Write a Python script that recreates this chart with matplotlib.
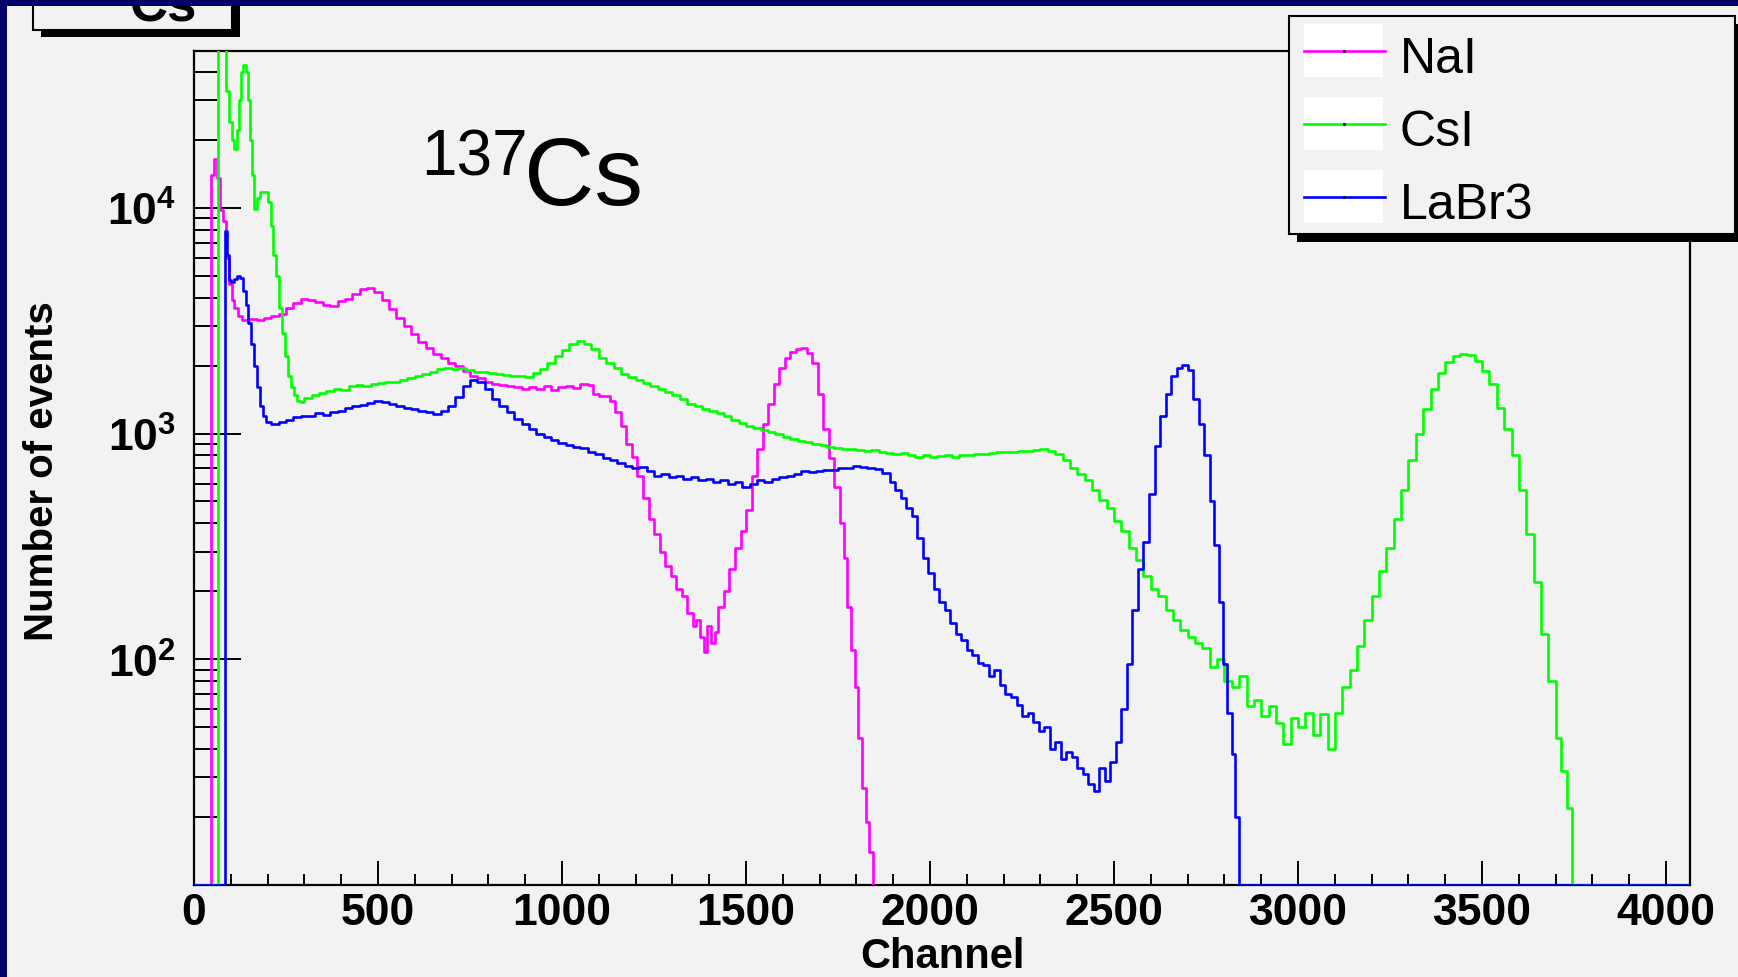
import numpy as np
import matplotlib
matplotlib.use('Agg')
import matplotlib.pyplot as plt
from matplotlib.patches import Rectangle
from matplotlib.lines import Line2D
from matplotlib.ticker import MultipleLocator, NullFormatter

# ---------------- data (channel, counts) ----------------
series_labels = ['NaI', 'CsI', 'LaBr3']
series_colors = ['#ff00ff', '#00ff00', '#0000ff']

nai = [(0, 0), (45, 14000), (54, 16500), (62, 13500), (70, 9800), (78, 8700), (86, 6000), (94, 4600),
       (102, 3900), (110, 3600), (120, 3300), (130, 3200), (150, 3220), (170, 3200), (190, 3250),
       (210, 3300), (230, 3380), (250, 3600), (270, 3800), (290, 3950), (310, 3900), (330, 3820),
       (350, 3700), (370, 3680), (390, 3850), (410, 3950), (430, 4150), (450, 4350), (470, 4420),
       (490, 4250), (510, 3900), (530, 3550), (550, 3250), (570, 3000), (590, 2750), (610, 2550),
       (630, 2400), (650, 2250), (670, 2150), (690, 2050), (710, 2000), (730, 1900), (750, 1800),
       (770, 1760), (790, 1700), (810, 1660), (830, 1640), (850, 1620), (870, 1600), (890, 1580),
       (910, 1610), (930, 1570), (950, 1620), (970, 1560), (990, 1600), (1010, 1620), (1030, 1590),
       (1050, 1660), (1070, 1640), (1085, 1500), (1100, 1470), (1115, 1460), (1130, 1400),
       (1145, 1250), (1160, 1080), (1175, 900), (1190, 790), (1205, 650), (1220, 520), (1235, 420),
       (1250, 360), (1265, 300), (1280, 260), (1295, 235), (1310, 205), (1325, 190), (1340, 160),
       (1355, 140), (1365, 150), (1375, 125), (1385, 108), (1395, 140), (1405, 118), (1415, 132),
       (1425, 170), (1440, 200), (1455, 250), (1470, 310), (1485, 370), (1500, 460), (1515, 650),
       (1530, 850), (1545, 1100), (1560, 1350), (1575, 1650), (1590, 1950), (1605, 2150),
       (1620, 2300), (1635, 2380), (1650, 2400), (1665, 2280), (1680, 2050), (1695, 1500),
       (1710, 1050), (1725, 780), (1740, 580), (1755, 400), (1765, 280), (1775, 170), (1785, 110),
       (1795, 75), (1805, 45), (1815, 27), (1825, 19), (1835, 14), (1845, 4), (4096, 4)]

csi = [(0, 0), (66, 90000), (88, 33000), (96, 24000), (104, 20000), (110, 18200), (116, 22000),
       (122, 30000), (128, 40000), (134, 43000), (140, 40000), (146, 30000), (152, 20000),
       (158, 14000), (164, 9900), (172, 11000), (180, 11800), (190, 11800), (200, 10600),
       (208, 8300), (216, 6200), (224, 5000), (232, 3600), (240, 2800), (248, 2200), (256, 1800),
       (264, 1600), (272, 1480), (280, 1400), (290, 1380), (300, 1430), (320, 1480), (340, 1510),
       (360, 1540), (380, 1580), (400, 1560), (420, 1620), (440, 1640), (460, 1620), (480, 1660),
       (500, 1680), (520, 1690), (540, 1700), (560, 1720), (580, 1760), (600, 1800), (620, 1840),
       (640, 1880), (660, 1930), (680, 1950), (700, 1940), (720, 1960), (740, 1920), (760, 1880),
       (780, 1870), (800, 1850), (820, 1830), (840, 1810), (860, 1800), (880, 1790), (900, 1780),
       (920, 1850), (940, 1940), (960, 2050), (980, 2200), (1000, 2350), (1020, 2500),
       (1040, 2570), (1060, 2480), (1080, 2380), (1100, 2150), (1120, 2050), (1140, 1950),
       (1160, 1840), (1180, 1780), (1200, 1720), (1220, 1680), (1240, 1620), (1260, 1580),
       (1280, 1530), (1300, 1480), (1320, 1420), (1340, 1350), (1360, 1320), (1380, 1280),
       (1400, 1260), (1420, 1230), (1440, 1200), (1460, 1150), (1480, 1110), (1500, 1080),
       (1520, 1055), (1540, 1040), (1560, 1020), (1580, 1000), (1600, 970), (1620, 945),
       (1640, 930), (1660, 915), (1680, 900), (1700, 890), (1720, 875), (1740, 860), (1760, 855),
       (1780, 850), (1800, 842), (1820, 838), (1840, 842), (1860, 830), (1880, 816), (1900, 815),
       (1920, 816), (1940, 800), (1960, 790), (1980, 802), (2000, 789), (2020, 795), (2040, 800),
       (2060, 790), (2080, 802), (2100, 800), (2120, 810), (2140, 815), (2160, 816), (2180, 825),
       (2200, 830), (2220, 832), (2240, 838), (2260, 840), (2280, 845), (2300, 855), (2320, 840),
       (2340, 810), (2360, 760), (2380, 700), (2400, 660), (2420, 620), (2440, 560), (2460, 510),
       (2480, 466), (2500, 410), (2520, 370), (2540, 310), (2560, 275), (2580, 235), (2600, 205),
       (2620, 190), (2640, 165), (2660, 150), (2680, 135), (2700, 125), (2720, 118), (2740, 112),
       (2760, 92), (2780, 100), (2800, 80), (2820, 75), (2840, 84), (2860, 62), (2880, 66),
       (2900, 56), (2920, 62), (2940, 52), (2960, 42), (2980, 55), (3000, 50), (3020, 58),
       (3040, 46), (3060, 57), (3080, 40), (3100, 58), (3120, 75), (3140, 90), (3160, 115),
       (3180, 150), (3200, 190), (3220, 245), (3240, 310), (3260, 420), (3280, 560), (3300, 760),
       (3320, 1000), (3340, 1280), (3360, 1580), (3380, 1850), (3400, 2080), (3420, 2200),
       (3440, 2250), (3460, 2220), (3480, 2100), (3500, 1900), (3520, 1650), (3540, 1300),
       (3560, 1050), (3580, 800), (3600, 560), (3620, 360), (3640, 220), (3660, 130), (3680, 80),
       (3700, 45), (3715, 32), (3730, 22), (3745, 0), (4096, 0)]

labr3 = [(0, 0), (84, 7900), (90, 6150), (94, 4800), (100, 4700), (108, 4850), (116, 5000),
         (124, 4900), (132, 4300), (140, 3700), (148, 3100), (156, 2500), (164, 2000), (172, 1600),
         (180, 1330), (188, 1200), (196, 1120), (210, 1100), (230, 1120), (250, 1150), (270, 1180),
         (290, 1200), (310, 1190), (330, 1230), (350, 1210), (370, 1250), (390, 1260), (410, 1300),
         (430, 1320), (450, 1340), (470, 1360), (490, 1390), (510, 1380), (530, 1350), (550, 1320),
         (570, 1300), (590, 1280), (610, 1260), (630, 1240), (650, 1220), (670, 1260), (690, 1320),
         (710, 1450), (730, 1620), (750, 1720), (770, 1700), (790, 1580), (810, 1420), (830, 1320),
         (850, 1250), (870, 1160), (890, 1100), (910, 1050), (930, 1000), (950, 970), (970, 940),
         (990, 910), (1010, 890), (1030, 870), (1050, 860), (1070, 830), (1090, 810), (1110, 780),
         (1130, 760), (1150, 740), (1170, 720), (1190, 700), (1210, 710), (1230, 680), (1250, 650),
         (1270, 660), (1290, 640), (1310, 650), (1330, 630), (1350, 640), (1370, 620), (1390, 630),
         (1410, 610), (1430, 620), (1450, 600), (1470, 610), (1490, 580), (1510, 600), (1530, 620),
         (1550, 610), (1570, 630), (1590, 640), (1610, 650), (1630, 660), (1650, 680), (1670, 675),
         (1690, 680), (1710, 690), (1730, 690), (1750, 700), (1770, 705), (1790, 715), (1810, 712),
         (1830, 705), (1850, 695), (1870, 670), (1890, 610), (1905, 560), (1920, 520), (1935, 470),
         (1950, 430), (1965, 345), (1980, 280), (1995, 240), (2010, 205), (2025, 180), (2040, 165),
         (2055, 145), (2070, 130), (2085, 122), (2100, 110), (2115, 104), (2130, 96), (2145, 94),
         (2160, 84), (2175, 90), (2190, 77), (2205, 70), (2220, 68), (2235, 63), (2250, 56),
         (2265, 58), (2280, 53), (2295, 48), (2310, 50), (2325, 40), (2340, 43), (2355, 36),
         (2370, 39), (2385, 37), (2400, 33), (2415, 31), (2430, 28), (2445, 26), (2460, 33),
         (2475, 29), (2490, 35), (2505, 43), (2520, 60), (2535, 95), (2550, 165), (2565, 250),
         (2580, 330), (2595, 540), (2610, 880), (2625, 1200), (2640, 1500), (2655, 1800),
         (2670, 1950), (2685, 2010), (2700, 1920), (2715, 1420), (2730, 1100), (2745, 800),
         (2760, 500), (2772, 320), (2784, 180), (2795, 95), (2807, 58), (2820, 38), (2830, 20),
         (2840, 0), (4096, 0)]

x_major_ticks = [0, 500, 1000, 1500, 2000, 2500, 3000, 3500, 4000]
y_major_ticks = [1e2, 1e3, 1e4]
y_tick_labels = [r'$\mathbf{10^{2}}$', r'$\mathbf{10^{3}}$', r'$\mathbf{10^{4}}$']
X_RANGE = (0, 4065)
Y_RANGE = (10, 4.95e4)

# ---------------- styling ----------------
W, H = 1738, 978
BG = '#f2f2f2'
NAVY = '#000066'
plt.rcParams['font.family'] = ['Liberation Sans', 'DejaVu Sans']
plt.rcParams['mathtext.fontset'] = 'custom'
plt.rcParams['mathtext.rm'] = 'Liberation Sans'
plt.rcParams['mathtext.bf'] = 'Liberation Sans:bold'
plt.rcParams['mathtext.it'] = 'Liberation Sans:italic'


def fx(x):
    return x / W


def fy(y):
    return 1 - y / H


def rect(x0, y0, x1, y1, **kw):
    return Rectangle((fx(x0), fy(y1)), (x1 - x0) / W, (y1 - y0) / H,
                     transform=fig.transFigure, **kw)


fig = plt.figure(figsize=(W / 100, H / 100), dpi=100, facecolor=BG)
ax = fig.add_axes([fx(194), fy(886), (1690 - 194) / W, (886 - 52) / H])
ax.set_facecolor(BG)

for data, color, label in zip([nai, csi, labr3], series_colors, series_labels):
    ch, counts = np.array(data, dtype=float).T
    # empty bins are drawn on the bottom edge of the frame, as ROOT does
    shown = np.where(counts > 0, counts, Y_RANGE[0])
    ax.step(ch, shown, where='post', color=color, lw=1.9, zorder=3, label=label)

ax.set_yscale('log')
ax.set_xlim(*X_RANGE)
ax.set_ylim(*Y_RANGE)

ax.set_xticks(x_major_ticks, labels=[str(t) for t in x_major_ticks],
              fontsize=32, fontweight='bold')
ax.xaxis.set_minor_locator(MultipleLocator(100))
ax.set_yticks(y_major_ticks, labels=y_tick_labels, fontsize=32)
minor_y = [m * 10 ** e for e in range(1, 5) for m in range(2, 10) if m * 10 ** e < Y_RANGE[1]]
ax.set_yticks(minor_y, minor=True)
ax.yaxis.set_minor_formatter(NullFormatter())

ax.tick_params(which='both', direction='in', top=False, right=False, width=1.4, color='black')
ax.tick_params(axis='x', which='major', length=17, pad=5)
ax.tick_params(axis='x', which='minor', length=8)
ax.tick_params(axis='y', which='major', length=34, pad=13)
ax.tick_params(axis='y', which='minor', length=16.5)
for sp in ax.spines.values():
    sp.set_linewidth(1.6)
    sp.set_color('black')

# axis titles
fig.text(fx(42), fy(471), 'Number of events', rotation=90, ha='center', va='center',
         fontsize=29, fontweight='bold')
fig.text(fx(943), fy(968), 'Channel', ha='center', va='baseline', fontsize=30, fontweight='bold')

# isotope annotation
fig.text(fx(421), fy(175), '137', fontsize=46, ha='left', va='baseline')
fig.text(fx(524), fy(205), 'Cs', fontsize=70, ha='left', va='baseline')

# title box (cut off at top)
fig.add_artist(rect(41, -20, 240, 38, facecolor='black', edgecolor='none', zorder=10))
fig.add_artist(rect(33, -20, 232, 31, facecolor=BG, edgecolor='black', lw=1.5, zorder=11))
fig.text(fx(164), fy(21), 'Cs', ha='center', va='baseline', fontsize=38, fontweight='bold',
         zorder=12)

# legend box
fig.add_artist(rect(1297, 25, 1745, 243, facecolor='black', edgecolor='none', zorder=10))
fig.add_artist(rect(1289, 17, 1735, 235, facecolor=BG, edgecolor='black', lw=1.5, zorder=11))
row_y = [52, 125, 198]
for yy, color, label in zip(row_y, series_colors, series_labels):
    fig.add_artist(rect(1304, yy - 27, 1383, yy + 26, facecolor='white', edgecolor='none', zorder=12))
    fig.add_artist(Line2D([fx(1304), fx(1385)], [fy(yy), fy(yy)], transform=fig.transFigure,
                          color=color, lw=1.9, zorder=13))
    fig.add_artist(Line2D([fx(1344)], [fy(yy)], transform=fig.transFigure, marker='.',
                          markersize=2.5, color='black', zorder=14))
    fig.text(fx(1400), fy(yy + 21), label, ha='left', va='baseline', fontsize=36, zorder=14)

# navy slide border (top and left)
fig.add_artist(rect(0, 0, W, 7, facecolor=NAVY, edgecolor='none', zorder=30))
fig.add_artist(rect(0, 0, 7, H, facecolor=NAVY, edgecolor='none', zorder=30))

fig.savefig('out.png', dpi=100, facecolor=BG)
